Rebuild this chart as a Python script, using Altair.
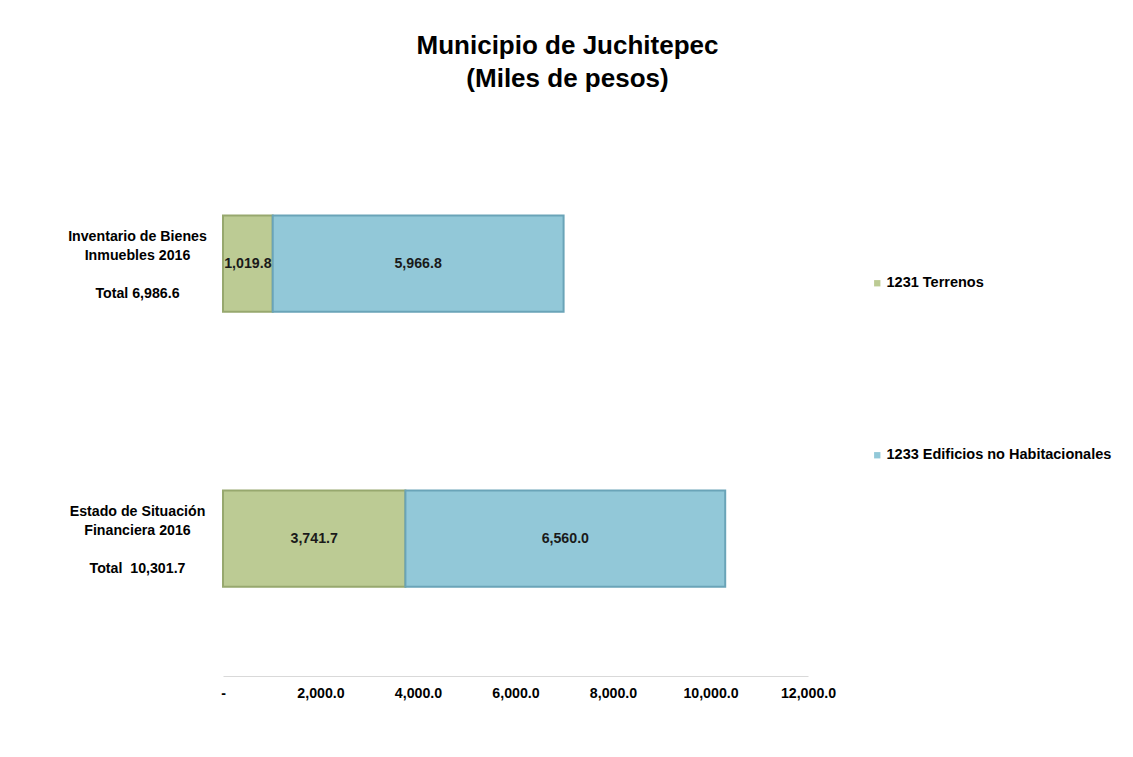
import altair as alt
import pandas as pd

# ---- data ----
categories = ["Inventario de Bienes Inmuebles 2016", "Estado de Situación Financiera 2016"]
cat_labels = ["Inventario de Bienes|Inmuebles 2016|\u200b|Total 6,986.6",
              "Estado de Situación|Financiera 2016|\u200b|Total\u00a0\u00a010,301.7"]
series = ["1231 Terrenos", "1233 Edificios no Habitacionales"]
terrenos = [1019.8, 3741.7]
edificios = [5966.8, 6560.0]
x_ticks = [0, 2000, 4000, 6000, 8000, 10000, 12000]

colors = ["#BCCB94", "#92C8D8"]
strokes = ["#97A86E", "#6AA4B8"]

rows = []
for i, c in enumerate(categories):
    start = 0.0
    for j, (s, vals) in enumerate(zip(series, [terrenos, edificios])):
        v = vals[i]
        rows.append({"cat": cat_labels[i], "series": s, "order": j,
                     "value": v, "start": start, "end": start + v,
                     "mid": start + v / 2, "label": f"{v:,.1f}"})
        start += v
df = pd.DataFrame(rows)

FONT = "Liberation Sans"

y_enc = alt.Y("cat:N", sort=cat_labels, title=None,
              scale=alt.Scale(paddingInner=0.65, paddingOuter=0.325),
              axis=alt.Axis(labelExpr="split(datum.label, '|')", labelAlign="center",
                            labelPadding=86, ticks=False, domain=False,
                            labelFont=FONT, labelFontSize=14.2, labelFontWeight="bold",
                            labelColor="#000000", labelLineHeight=19,
                            labelBaseline="middle", labelOffset=-27, labelLimit=300))

x_scale = alt.Scale(domain=[0, 12000], nice=False)

bars = alt.Chart(df).mark_bar(strokeWidth=2).encode(
    x=alt.X("start:Q", scale=x_scale, title=None,
            axis=alt.Axis(values=x_ticks, grid=False, ticks=False,
                          domainColor="#D9D9D9", domainWidth=1, labelFlush=False,
                          labelExpr="datum.value == 0 ? '-' : format(datum.value, ',.1f')",
                          labelFont=FONT, labelFontSize=14.2, labelFontWeight="bold",
                          labelColor="#000000", labelPadding=10)),
    x2="end:Q",
    y=y_enc,
    color=alt.Color("series:N", scale=alt.Scale(domain=series, range=colors),
                    legend=alt.Legend(title=None, orient="none", legendX=647, legendY=150,
                                      symbolType="square", symbolSize=40,
                                      symbolStrokeWidth=0, rowPadding=157,
                                      labelFont=FONT, labelFontSize=14.5,
                                      labelFontWeight="bold", labelColor="#000000",
                                      labelOffset=2, labelLimit=400)),
    stroke=alt.Stroke("series:N", scale=alt.Scale(domain=series, range=strokes), legend=None),
)

texts = alt.Chart(df).mark_text(font=FONT, fontSize=14.2, fontWeight="bold",
                                color="#1a1a1a").encode(
    x=alt.X("mid:Q", scale=x_scale),
    y=alt.Y("cat:N", sort=cat_labels),
    text="label:N",
)

chart = alt.layer(bars, texts).properties(
    width=585, height=550,
    title=alt.TitleParams(["Municipio de Juchitepec", "(Miles de pesos)"],
                          font=FONT, fontSize=26, fontWeight="bold", color="#000000",
                          lineHeight=33, anchor="middle", dx=52, offset=34),
    padding={"left": 215, "top": 118, "right": 310, "bottom": 70},
    autosize="none",
    background="white",
).configure_view(stroke=None)

chart.save("out.html", embed_options={"renderer": "svg", "actions": False})
